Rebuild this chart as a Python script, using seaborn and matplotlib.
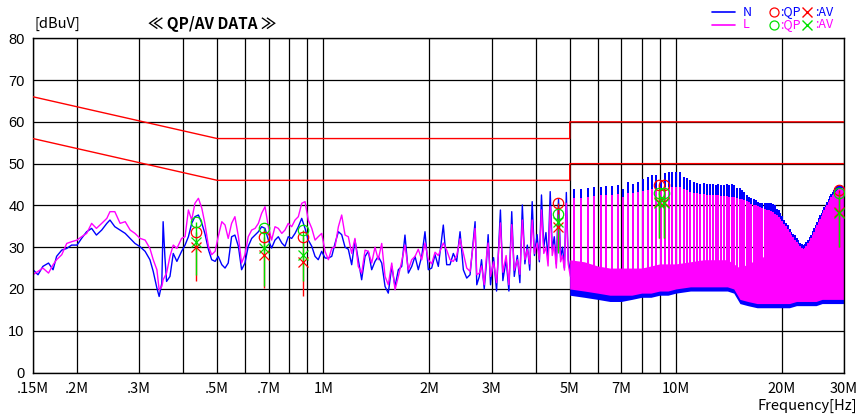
import matplotlib
matplotlib.use("Agg")
import matplotlib.pyplot as plt
from matplotlib.lines import Line2D
from matplotlib.ticker import NullFormatter
import pandas as pd
import seaborn as sns

# ---------------------------------------------------------------- sweep < 5 MHz
# frequency [MHz] and measured level [dBuV] for the N and L lines
sweep_freq = [
    0.150, 0.155, 0.160, 0.166, 0.171, 0.175, 0.181, 0.187, 0.193, 0.200,
    0.206, 0.213, 0.220, 0.227, 0.235, 0.243, 0.248, 0.256, 0.265, 0.274,
    0.283, 0.292, 0.302, 0.312, 0.322, 0.329, 0.337, 0.342, 0.348, 0.351,
    0.355, 0.359, 0.367, 0.375, 0.384,
    0.396, 0.405, 0.414, 0.423, 0.432, 0.442, 0.452, 0.461, 0.472, 0.482,
    0.493, 0.503, 0.515, 0.526, 0.537, 0.549, 0.561, 0.574, 0.586, 0.599,
    0.612, 0.626, 0.640, 0.654, 0.668, 0.683, 0.698, 0.713, 0.729, 0.745,
    0.762, 0.778, 0.795, 0.813, 0.831, 0.849, 0.868, 0.887, 0.906, 0.927,
    0.947, 0.967, 0.989,
    1.011, 1.033, 1.056, 1.079, 1.103, 1.127, 1.152, 1.177, 1.203, 1.229,
    1.256, 1.284, 1.313, 1.341, 1.371, 1.401, 1.431, 1.464, 1.496, 1.528,
    1.563, 1.597, 1.632, 1.668, 1.704, 1.742, 1.781, 1.820, 1.859, 1.901,
    1.942, 1.985, 2.029, 2.074, 2.119, 2.189, 2.238, 2.287, 2.337, 2.389,
    2.442, 2.495, 2.551, 2.607, 2.694, 2.724, 2.770,
    2.81, 2.86, 2.90, 2.934, 2.98, 3.04, 3.10, 3.179, 3.23, 3.30,
    3.36, 3.423, 3.48, 3.55, 3.61, 3.668, 3.73, 3.79, 3.85, 3.912,
    3.97, 4.04, 4.10, 4.157, 4.22, 4.28, 4.34, 4.401, 4.46, 4.52,
    4.58, 4.646, 4.71, 4.77, 4.83, 4.890, 4.95, 5.02,
]
sweep_n = [
    24.6, 23.4, 25.4, 26.2, 24.6, 27.8, 29.3, 29.7, 30.5, 30.5,
    32.1, 33.7, 34.5, 32.9, 34.1, 35.7, 36.5, 34.9, 34.1, 33.3,
    32.1, 30.9, 30.1, 29.0, 27.0, 24.2, 20.2, 18.2, 21.4, 36.1,
    27.8, 21.8, 23.0, 28.5, 26.6,
    29.0, 30.5, 32.5, 35.7, 37.3, 37.7, 35.7, 33.3, 29.4, 27.0,
    26.6, 27.8, 25.8, 25.0, 26.2, 32.5, 32.9, 30.2, 24.6, 26.2,
    30.2, 32.1, 32.9, 33.7, 34.9, 34.5, 31.7, 29.8, 31.7, 32.5,
    31.0, 30.2, 32.5, 32.1, 33.3, 34.9, 36.9, 34.5, 31.7, 30.2,
    27.8, 27.0, 29.0,
    27.4, 27.4, 27.8, 30.9, 33.7, 33.0, 30.0, 29.5, 25.8, 31.7,
    27.0, 22.2, 27.8, 29.0, 24.6, 26.6, 27.8, 26.2, 20.6, 19.0,
    25.4, 20.6, 24.6, 25.4, 32.9, 23.8, 25.4, 27.8, 24.6, 27.8,
    33.7, 24.6, 25.0, 28.2, 25.4, 35.3, 25.8, 25.8, 28.5, 26.6,
    33.7, 24.6, 22.6, 23.4, 36.1, 21.0, 23.0,
    27.0, 20.0, 26.0, 33.0, 21.0, 27.5, 19.5, 38.9, 22.0, 27.0,
    19.5, 38.5, 23.0, 28.0, 21.5, 40.1, 26.0, 30.5, 24.5, 40.9,
    28.0, 33.0, 26.5, 42.5, 30.0, 33.5, 27.0, 43.3, 29.5, 32.5,
    26.0, 41.5, 27.5, 30.0, 25.0, 43.1, 27.0, 24.0,
]
sweep_l = [
    23.4, 24.2, 25.0, 23.8, 25.8, 27.0, 28.2, 30.9, 31.3, 31.7,
    32.5, 33.3, 35.7, 34.5, 35.7, 36.9, 38.5, 38.5, 35.7, 36.1,
    34.1, 33.3, 32.1, 31.7, 29.7, 27.0, 24.6, 19.8, 20.6, 22.2,
    23.0, 23.8, 27.8, 30.5, 29.7,
    32.1, 32.5, 38.9, 36.5, 40.5, 41.7, 39.3, 35.7, 30.2, 28.2,
    29.0, 32.5, 36.1, 35.3, 32.1, 35.7, 37.3, 32.5, 26.2, 28.2,
    32.5, 34.1, 34.5, 35.7, 38.1, 39.7, 34.9, 31.7, 34.9, 34.5,
    33.3, 34.1, 35.7, 34.9, 36.5, 37.3, 40.5, 40.9, 36.5, 34.5,
    31.7, 32.5, 33.3,
    29.0, 27.0, 29.7, 30.1, 34.9, 37.7, 32.9, 32.5, 28.5, 32.1,
    25.4, 23.8, 29.3, 29.0, 26.2, 30.0, 27.0, 30.9, 23.0, 21.0,
    26.2, 19.8, 23.0, 26.6, 30.5, 24.6, 27.0, 27.8, 29.5, 27.0,
    31.0, 27.0, 26.0, 28.8, 28.0, 31.0, 29.3, 27.0, 26.6, 28.0,
    32.0, 28.5, 25.0, 24.2, 34.5, 23.4, 23.8,
    25.5, 21.0, 27.5, 31.0, 23.0, 26.5, 21.5, 35.8, 24.0, 28.0,
    21.0, 35.4, 24.5, 27.0, 23.5, 36.5, 27.0, 29.5, 26.0, 36.5,
    28.5, 31.0, 27.0, 38.9, 28.5, 30.0, 25.5, 39.7, 28.0, 30.5,
    25.0, 39.0, 26.5, 28.0, 24.5, 40.5, 26.0, 23.0,
]

# ------------------------------------------------- harmonic comb above 5 MHz
comb_freq = [
    5.135, 5.379, 5.624, 5.868, 6.113, 6.357, 6.602, 6.846, 7.091, 7.335,
    7.580, 7.824, 8.069, 8.313, 8.558, 8.802, 9.047, 9.291, 9.536, 9.780,
    10.025, 10.269, 10.514, 10.758, 11.003, 11.247, 11.492, 11.736, 11.981, 12.225,
    12.470, 12.714, 12.959, 13.203, 13.448, 13.692, 13.937, 14.181, 14.426, 14.670,
    14.915, 15.159, 15.404, 15.648, 15.893, 16.137, 16.382, 16.626, 16.871, 17.115,
    17.360, 17.604, 17.849, 18.093, 18.338, 18.582, 18.827, 19.071, 19.316, 19.560,
    19.805, 20.049, 20.294, 20.538, 20.783, 21.027, 21.272, 21.516, 21.761, 22.005,
    22.250, 22.494, 22.739, 22.983, 23.228, 23.472, 23.717, 23.961, 24.206, 24.450,
    24.695, 24.939, 25.184, 25.428, 25.673, 25.917, 26.162, 26.406, 26.651, 26.895,
    27.140, 27.384, 27.629, 27.873, 28.118, 28.362, 28.607, 28.851, 29.096, 29.340,
    29.585, 29.829,
]
comb_n = [
    43.9, 43.9, 44.1, 44.5, 44.5, 44.7, 44.7, 44.9, 43.9, 45.5,
    45.2, 45.7, 46.3, 46.8, 47.3, 47.3, 46.0, 47.7, 48.1, 48.1,
    48.1, 47.9, 46.7, 46.5, 46.1, 45.5, 45.3, 45.2, 45.3, 45.2,
    45.2, 45.2, 44.9, 45.2, 44.9, 45.0, 45.2, 44.9, 45.1, 45.0,
    44.2, 44.1, 43.8, 43.3, 42.6, 42.0, 41.7, 41.5, 41.3, 40.9,
    40.6, 40.5, 40.5, 40.5, 40.5, 40.5, 40.3, 40.0, 39.2, 38.8,
    38.2, 37.4, 36.5, 35.9, 35.3, 34.4, 33.7, 33.2, 32.9, 32.1,
    31.6, 31.0, 30.8, 30.6, 30.7, 31.3, 31.8, 32.5, 33.0, 33.8,
    34.6, 35.4, 36.1, 36.9, 37.6, 38.3, 39.0, 39.5, 40.1, 40.9,
    41.5, 42.3, 42.7, 43.2, 43.7, 44.2, 44.6, 44.8, 44.9, 44.9,
    44.7, 44.5,
]
comb_l = [
    41.7, 41.7, 42.0, 42.3, 42.5, 42.5, 42.5, 42.8, 42.0, 43.0,
    43.0, 43.3, 43.5, 43.8, 44.0, 44.0, 44.0, 44.3, 44.5, 44.5,
    44.5, 44.3, 44.0, 43.6, 43.3, 43.0, 42.9, 42.8, 42.7, 42.6,
    42.5, 42.5, 42.4, 42.4, 42.3, 42.2, 42.2, 42.1, 42.0, 41.9,
    41.8, 41.6, 41.5, 41.3, 41.0, 40.7, 40.4, 40.2, 40.0, 39.8,
    39.6, 39.4, 39.2, 39.0, 38.9, 38.7, 38.4, 38.0, 37.6, 37.3,
    36.8, 36.2, 35.6, 35.0, 34.4, 33.7, 33.0, 32.4, 31.8, 31.3,
    30.7, 30.2, 29.8, 29.6, 29.8, 30.3, 30.9, 31.5, 32.2, 32.9,
    33.7, 34.5, 35.3, 36.0, 36.8, 37.5, 38.2, 38.9, 39.5, 40.2,
    40.8, 41.4, 41.9, 42.4, 42.8, 43.2, 43.5, 43.8, 44.0, 44.1,
    44.1, 44.0,
]
spike_base = 22.0

# ------------------------------------------- noise floor band above 5 MHz
band_freq = [5.0, 5.5, 6.0, 6.5, 7.0, 7.5, 8.0, 8.5, 9.0, 9.5, 10.0, 11.0,
             12.0, 13.0, 14.0, 14.6, 15.2, 16.0, 17.0, 18.0, 19.0, 20.0,
             21.0, 22.0, 23.0, 24.0, 25.0, 26.0, 27.0, 28.0, 29.0, 30.0]
band_l_lo = [20.0, 19.5, 19.0, 18.5, 18.5, 18.5, 19.0, 19.0, 19.5, 19.5, 20.0, 20.5,
             20.5, 20.5, 20.5, 20.0, 17.5, 17.0, 16.5, 16.5, 16.5, 16.5,
             16.5, 17.0, 17.0, 17.0, 17.0, 17.5, 17.5, 17.5, 17.5, 17.5]
band_l_hi = [27.0, 26.5, 25.5, 25.0, 25.0, 25.0, 25.0, 25.5, 26.0, 26.0, 26.0, 26.5,
             27.0, 27.0, 27.0, 26.0, 25.0, 26.0, 27.0, 28.0, 28.0, 28.0,
             28.0, 28.0, 28.0, 28.0, 28.0, 28.0, 28.0, 28.0, 28.0, 28.0]
band_n_lo = [18.5, 18.0, 17.5, 17.0, 17.0, 17.5, 18.0, 18.0, 18.5, 18.5, 19.0, 19.5,
             19.5, 19.5, 19.5, 19.0, 16.5, 16.0, 15.5, 15.5, 15.5, 15.5,
             15.5, 16.0, 16.0, 16.0, 16.0, 16.5, 16.5, 16.5, 16.5, 16.5]
band_n_hi = [26.0, 25.5, 25.0, 24.5, 24.0, 24.0, 24.0, 24.5, 25.0, 25.0, 25.0, 25.5,
             26.0, 26.0, 26.0, 25.0, 24.0, 25.0, 26.0, 27.0, 27.0, 27.0,
             27.0, 27.0, 27.0, 27.0, 27.0, 27.0, 27.0, 27.0, 27.0, 27.0]

# ------------------------------------------------------------- limit lines
limit_freq = [0.15, 0.5, 5.0, 5.0, 30.0]
qp_limit = [66, 56, 56, 60, 60]
av_limit = [56, 46, 46, 50, 50]

# ------------------------------------------------------- measured points
meas_freq = [0.434, 0.678, 0.874, 4.646, 8.98, 9.28, 29.05]
n_qp = [33.7, 32.5, 32.4, 40.5, 44.9, 44.9, 43.7]
n_av = [30.1, 28.2, 26.5, 34.9, 40.9, 40.9, 38.5]
l_qp = [36.0, 34.7, 34.0, 37.9, 42.9, 42.9, 42.9]
l_av = [31.3, 29.8, 28.2, 36.1, 40.5, 40.5, 38.3]
n_stem_low = [22.0, 20.2, 18.2, 29.0, 32.2, 32.2, 30.0]
l_stem_low = [23.4, 20.6, 22.0, 28.6, 32.2, 32.2, 30.0]

# ----------------------------------------------------------------- axis
major_ticks = [0.15, 0.2, 0.3, 0.5, 0.7, 1, 2, 3, 5, 7, 10, 20, 30]
major_labels = [".15M", ".2M", ".3M", ".5M", ".7M", "1M", "2M", "3M",
                "5M", "7M", "10M", "20M", "30M"]
minor_ticks = [0.4, 0.6, 0.8, 0.9, 4, 6, 8, 9]
y_ticks = [0, 10, 20, 30, 40, 50, 60, 70, 80]

BLUE = "#0000ff"
MAGENTA = "#ff00ff"
RED = "#ff0000"
GREEN = "#00e000"

sns.set_theme(style="white", rc={"axes.edgecolor": "black", "axes.linewidth": 1.0})
plt.rcParams["font.family"] = ["Noto Sans CJK JP", "DejaVu Sans"]

W, H = 858, 416
fig = plt.figure(figsize=(W / 100, H / 100), dpi=100)
ax = fig.add_axes([33 / W, 1 - 372.5 / H, 811 / W, 334.2 / H])
ax.set_xscale("log")


def fx(px):
    return px / W


def fy(py):
    return 1 - py / H


sweep = pd.DataFrame({
    "freq": sweep_freq + sweep_freq,
    "level": sweep_n + sweep_l,
    "line": ["N"] * len(sweep_freq) + ["L"] * len(sweep_freq),
})
sns.lineplot(data=sweep, x="freq", y="level", hue="line", hue_order=["N", "L"],
             palette={"N": BLUE, "L": MAGENTA}, estimator=None, sort=False,
             linewidth=1.0, legend=False, ax=ax)

# comb region: noise floor band plus harmonic spikes (crisp, no blending)
ax.fill_between(band_freq, band_n_lo, band_n_hi, color=BLUE, linewidth=0,
                antialiased=False, zorder=2.1)
ax.vlines(comb_freq, spike_base, comb_n, color=BLUE, linewidth=1.4,
          antialiased=False, zorder=2.2)
ax.fill_between(band_freq, band_l_lo, band_l_hi, color=MAGENTA, linewidth=0,
                antialiased=False, zorder=2.3)
ax.vlines(comb_freq, spike_base, comb_l, color=MAGENTA, linewidth=1.4,
          antialiased=False, zorder=2.4)

# limits
ax.plot(limit_freq, qp_limit, color=RED, linewidth=1.0, zorder=3)
ax.plot(limit_freq, av_limit, color=RED, linewidth=1.0, zorder=3)

# measured QP / AV points
ax.vlines(meas_freq, n_stem_low, n_qp, color=RED, linewidth=1.0, zorder=4)
ax.vlines(meas_freq, l_stem_low, l_qp, color=GREEN, linewidth=1.0, zorder=4.1)
ax.plot(meas_freq, n_qp, ls="none", marker="o", mfc="none", mec=RED, ms=7.5, mew=0.9, zorder=5)
ax.plot(meas_freq, n_av, ls="none", marker="x", color=RED, ms=6.5, mew=0.9, zorder=5)
ax.plot(meas_freq, l_qp, ls="none", marker="o", mfc="none", mec=GREEN, ms=7.5, mew=0.9, zorder=5.1)
ax.plot(meas_freq, l_av, ls="none", marker="x", color=GREEN, ms=6.5, mew=0.9, zorder=5.1)

ax.set_xlim(0.15, 30)
ax.set_ylim(0, 80)
ax.set_xticks(major_ticks)
ax.set_xticklabels(major_labels)
ax.set_xticks(minor_ticks, minor=True)
ax.xaxis.set_minor_formatter(NullFormatter())
ax.set_yticks(y_ticks)
ax.set_yticklabels([str(v) for v in y_ticks], family=["Liberation Sans", "DejaVu Sans"])
ax.grid(True, which="both", axis="x", color="black", linewidth=0.9)
ax.grid(True, which="major", axis="y", color="black", linewidth=0.9)
ax.set_axisbelow(True)
ax.tick_params(axis="both", which="both", length=0, colors="black")
ax.tick_params(axis="x", labelsize=10.5, pad=7)
ax.tick_params(axis="y", labelsize=10.5, pad=6)
ax.set_xlabel("")
ax.set_ylabel("")

# header texts
fig.text(fx(35), fy(24), "[dBuV]", ha="left", va="center", fontsize=10.5, color="black")
fig.text(fx(212), fy(24), "≪ QP/AV DATA ≫", ha="center", va="center",
         fontsize=11, fontweight="bold", color="black")
fig.text(fx(857), fy(406), "Frequency[Hz]", ha="right", va="center",
         fontsize=10.5, color="black")

# legend block
rows = [(12, BLUE, "N", RED), (25, MAGENTA, "L", GREEN)]
for py, line_c, name, mark_c in rows:
    fig.add_artist(Line2D([fx(712), fx(735)], [fy(py), fy(py)], color=line_c,
                          linewidth=1.2, transform=fig.transFigure))
    fig.text(fx(743), fy(py), name, ha="left", va="center", fontsize=9, color=line_c)
    fig.add_artist(Line2D([fx(773.5)], [fy(py)], marker="o", mfc="none", mec=mark_c,
                          ms=6.5, mew=0.9, transform=fig.transFigure))
    fig.text(fx(780), fy(py), ":QP", ha="left", va="center", fontsize=9, color=line_c)
    fig.add_artist(Line2D([fx(807)], [fy(py)], marker="x", color=mark_c,
                          ms=6.5, mew=1.0, transform=fig.transFigure))
    fig.text(fx(815), fy(py), ":AV", ha="left", va="center", fontsize=9, color=line_c)

fig.savefig("out.png", dpi=100)
